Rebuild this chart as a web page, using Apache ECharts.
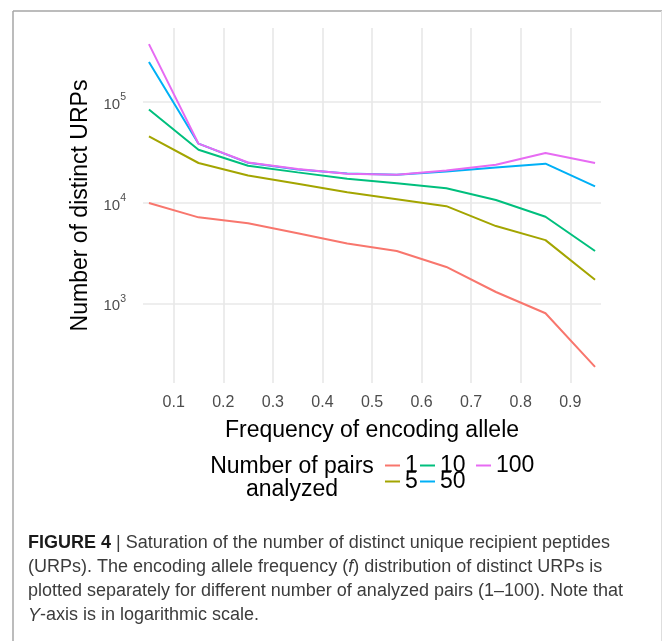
<!DOCTYPE html>
<html>
<head>
<meta charset="utf-8">
<script src="https://cdn.jsdelivr.net/npm/echarts@6/dist/echarts.min.js"></script>
<style>
  html, body { margin: 0; padding: 0; background: #fff; }
  #main { width: 663px; height: 641px; }
</style>
</head>
<body>
<div id="main"></div>
<script>
// encoding allele frequency (bin centres)
const freq = [0.05, 0.15, 0.25, 0.35, 0.45, 0.55, 0.65, 0.75, 0.85, 0.95]
// number of distinct URPs, one array per number of analysed pairs
const urp1 = [10000, 7200, 6300, 5000, 3960, 3340, 2320, 1310, 806, 237]
const urp5 = [45800, 24900, 18700, 15500, 12800, 10900, 9300, 5900, 4280, 1730]
const urp10 = [84600, 33700, 23400, 20100, 17400, 15700, 14000, 10700, 7300, 3340]
const urp50 = [250000, 38700, 25000, 21500, 19600, 19000, 20500, 22500, 24500, 14600]
const urp100 = [376000, 38700, 25200, 21700, 19500, 19000, 21000, 23900, 31300, 24900]
const pairs = ['1', '5', '10', '50', '100']
const xTicks = [0.1, 0.2, 0.3, 0.4, 0.5, 0.6, 0.7, 0.8, 0.9]
const yTicks = [1000, 10000, 100000]
const caption = [
  ' | Saturation of the number of distinct unique recipient peptides',
  '(URPs). The encoding allele frequency (',
  ') distribution of distinct URPs is',
  'plotted separately for different number of analyzed pairs (1\u2013100). Note that',
  '-axis is in logarithmic scale.'
]

const values = [urp1, urp5, urp10, urp50, urp100]
const colors = ['#F8766D', '#A3A500', '#00BF7D', '#00B0F6', '#E76BF3']
const FONT = '"Liberation Sans", Arial, Helvetica, sans-serif'

// legend key slots (2 rows, filled column by column like ggplot)
const legendPos = [
  { left: 385, top: 454 },
  { left: 385, top: 470 },
  { left: 420, top: 454 },
  { left: 420, top: 470 },
  { left: 476, top: 454 }
]

const myChart = echarts.init(document.getElementById('main'), null, { renderer: 'canvas' })

const series = pairs.map((p, i) => ({
  name: p,
  type: 'line',
  data: freq.map((f, j) => [f, values[i][j]]),
  symbol: 'none',
  lineStyle: { width: 2, color: colors[i] },
  itemStyle: { color: colors[i] },
  silent: true
}))

const legends = pairs.map((p, i) => ({
  data: [p],
  left: legendPos[i].left,
  top: legendPos[i].top,
  padding: 0,
  icon: 'rect',
  itemWidth: 15,
  itemHeight: 2,
  selectedMode: false,
  textStyle: { fontFamily: FONT, fontSize: 23, lineHeight: 22, color: '#000' }
}))

const capStyle = { fill: '#3c3c3c', fontSize: 18, fontFamily: FONT }

function capText (text, y, rich) {
  return {
    type: 'text',
    x: 28,
    y: y,
    style: {
      text: text,
      fontFamily: FONT,
      fontSize: 18,
      fill: '#3c3c3c',
      verticalAlign: 'middle',
      rich: rich
    }
  }
}

myChart.setOption({
  animation: false,
  textStyle: { fontFamily: FONT },
  color: colors,
  grid: { left: 143, right: 62, top: 28, bottom: 258, containLabel: false },
  xAxis: {
    type: 'value',
    min: 0.038,
    max: 0.962,
    name: 'Frequency of encoding allele',
    nameLocation: 'middle',
    nameGap: 36,
    nameTextStyle: { fontSize: 23, color: '#000', fontFamily: FONT },
    axisLine: { show: false },
    axisTick: { show: false, customValues: xTicks },
    axisLabel: {
      customValues: xTicks,
      margin: 12,
      fontSize: 16,
      color: '#4d4d4d',
      formatter: v => v.toFixed(1)
    },
    splitLine: { show: true, lineStyle: { color: '#e8e8e8', width: 1.6 } }
  },
  yAxis: {
    type: 'log',
    logBase: 10,
    min: 164,
    max: 543000,
    name: 'Number of distinct URPs',
    nameLocation: 'middle',
    nameRotate: 90,
    nameGap: 39,
    nameTextStyle: { fontSize: 23, color: '#000', fontFamily: FONT },
    axisLine: { show: false },
    axisTick: { show: false, customValues: yTicks },
    axisLabel: {
      customValues: yTicks,
      margin: 17,
      formatter: v => '{b|10}{s|' + Math.round(Math.log10(v)) + '}',
      rich: {
        b: { fontSize: 15, color: '#4d4d4d', lineHeight: 20, verticalAlign: 'bottom' },
        s: { fontSize: 10.5, color: '#4d4d4d', lineHeight: 20, verticalAlign: 'top' }
      }
    },
    splitLine: { show: true, lineStyle: { color: '#e8e8e8', width: 1.6 } }
  },
  legend: legends,
  series: series,
  graphic: [
    // figure frame
    { type: 'line', shape: { x1: 13, y1: 11, x2: 662, y2: 11 }, style: { stroke: '#a6a6a6', lineWidth: 1.5 } },
    { type: 'line', shape: { x1: 13, y1: 11, x2: 13, y2: 641 }, style: { stroke: '#a6a6a6', lineWidth: 1.5 } },
    { type: 'line', shape: { x1: 661.5, y1: 11, x2: 661.5, y2: 641 }, style: { stroke: '#dedede', lineWidth: 1 } },
    // legend title
    {
      type: 'text',
      x: 292,
      y: 467,
      style: { text: 'Number of pairs', fontFamily: FONT, fontSize: 23, fill: '#000', align: 'center', verticalAlign: 'middle' }
    },
    {
      type: 'text',
      x: 292,
      y: 490,
      style: { text: 'analyzed', fontFamily: FONT, fontSize: 23, fill: '#000', align: 'center', verticalAlign: 'middle' }
    },
    // caption
    capText('{b|FIGURE 4}' + caption[0], 543, { b: Object.assign({}, capStyle, { fontWeight: 'bold', fill: '#1a1a1a' }) }),
    capText(caption[1] + '{i|f}' + caption[2], 567, { i: Object.assign({}, capStyle, { fontStyle: 'italic' }) }),
    capText(caption[3], 591),
    capText('{i|Y}' + caption[4], 615.5, { i: Object.assign({}, capStyle, { fontStyle: 'italic' }) })
  ]
})
</script>
</body>
</html>
